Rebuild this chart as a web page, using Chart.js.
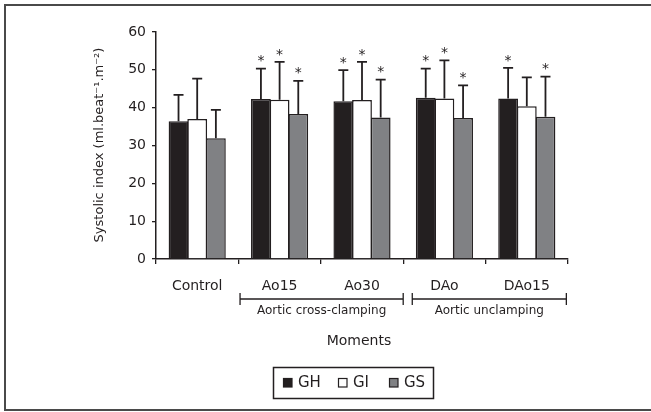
<!DOCTYPE html>
<html>
<head>
<meta charset="utf-8">
<script src="https://cdn.jsdelivr.net/npm/chart.js@4/dist/chart.umd.min.js"></script>
<style>
  html, body { margin: 0; padding: 0; background: #ffffff; overflow: hidden; }
  #wrap { position: relative; width: 651px; height: 412px; }
</style>
</head>
<body>
<div id="wrap"><canvas id="c" width="651" height="412"></canvas></div>
<script>
// ---- data ----
const categories = ['Control', 'Ao15', 'Ao30', 'DAo', 'DAo15'];
const seriesNames = ['GH', 'GI', 'GS'];
const ghValues = [36.4, 42.3, 41.7, 42.6, 42.4];
const giValues = [37.0, 42.1, 42.0, 42.4, 40.4];
const gsValues = [31.9, 38.3, 37.4, 37.3, 37.6];
const ghErrors = [7.0, 8.0, 8.2, 7.7, 8.1];
const giErrors = [10.7, 10.0, 10.1, 10.1, 7.6];
const gsErrors = [7.5, 8.8, 10.0, 8.6, 10.6];
const ghStars = [false, true, true, true, true];
const giStars = [false, true, true, true, false];
const gsStars = [false, true, true, true, true];
const yTicks = [0, 10, 20, 30, 40, 50, 60];
const groupLabels = ['Aortic cross-clamping', 'Aortic unclamping'];
const yTitle = 'Systolic index (ml.beat\u207B\u00B9.m\u207B\u00B2)';
const xTitle = 'Moments';

const INK = '#231f20';
const FONT = '"DejaVu Sans", sans-serif';

const errorSets = [ghErrors, giErrors, gsErrors];
const starSets = [ghStars, giStars, gsStars];

const extras = {
  id: 'extras',
  afterDatasetsDraw(chart) {
    const ctx = chart.ctx;
    const x = chart.scales.x, y = chart.scales.y;
    ctx.save();
    // error bars + stars
    chart.data.datasets.forEach((ds, di) => {
      const meta = chart.getDatasetMeta(di);
      meta.data.forEach((bar, i) => {
        const v = ds.data[i];
        const top = y.getPixelForValue(v + errorSets[di][i]);
        const base = y.getPixelForValue(v);
        ctx.strokeStyle = INK;
        ctx.lineWidth = 1.8;
        ctx.beginPath();
        ctx.moveTo(bar.x, base);
        ctx.lineTo(bar.x, top);
        ctx.moveTo(bar.x - 5, top);
        ctx.lineTo(bar.x + 5, top);
        ctx.stroke();
        if (starSets[di][i]) {
          ctx.fillStyle = INK;
          ctx.font = '14px ' + FONT;
          ctx.textAlign = 'center';
          ctx.textBaseline = 'middle';
          ctx.fillText('*', bar.x, top - 7);
        }
      });
    });
    // group brackets
    const brackets = [[0.52, 2.5], [2.61, 4.48]];
    const by = 299;
    ctx.strokeStyle = INK;
    ctx.lineWidth = 1.3;
    brackets.forEach((b, k) => {
      const x0 = x.getPixelForValue(b[0]);
      const x1 = x.getPixelForValue(b[1]);
      ctx.beginPath();
      ctx.moveTo(x0, by); ctx.lineTo(x1, by);
      ctx.moveTo(x0, by - 6); ctx.lineTo(x0, by + 6);
      ctx.moveTo(x1, by - 6); ctx.lineTo(x1, by + 6);
      ctx.stroke();
      ctx.fillStyle = INK;
      ctx.font = '12px ' + FONT;
      ctx.textAlign = 'center';
      ctx.textBaseline = 'middle';
      ctx.fillText(groupLabels[k], (x0 + x1) / 2, 311);
    });
    // x title
    ctx.font = '14px ' + FONT;
    ctx.fillText(xTitle, 359, 341);
    // y title
    ctx.save();
    ctx.translate(100, 145);
    ctx.rotate(-Math.PI / 2);
    ctx.font = '13px ' + FONT;
    ctx.fillText(yTitle, 0, 0);
    ctx.restore();
    // legend
    ctx.lineWidth = 1.5;
    ctx.strokeStyle = INK;
    ctx.strokeRect(273.5, 367.5, 160, 31);
    const lx = [283, 338, 389];
    chart.data.datasets.forEach((ds, di) => {
      ctx.fillStyle = ds.backgroundColor;
      ctx.fillRect(lx[di], 378, 9, 9);
      ctx.lineWidth = 1.2;
      ctx.strokeRect(lx[di] + 0.5, 378.5, 8.5, 8.5);
      ctx.fillStyle = INK;
      ctx.font = '15px ' + FONT;
      ctx.textAlign = 'left';
      ctx.textBaseline = 'middle';
      ctx.fillText(ds.label, lx[di] + 15, 383);
    });
    // outer frame (left, top, bottom only; right edge lies outside the picture)
    ctx.strokeStyle = '#4a4a4a';
    ctx.lineWidth = 2;
    ctx.beginPath();
    ctx.moveTo(660, 5); ctx.lineTo(5, 5); ctx.lineTo(5, 410); ctx.lineTo(660, 410);
    ctx.stroke();
    ctx.restore();
  }
};

new Chart(document.getElementById('c'), {
  type: 'bar',
  data: {
    labels: categories,
    datasets: [
      { label: seriesNames[0], data: ghValues, backgroundColor: INK, borderColor: INK, borderWidth: 1.5 },
      { label: seriesNames[1], data: giValues, backgroundColor: '#ffffff', borderColor: INK, borderWidth: 1.5 },
      { label: seriesNames[2], data: gsValues, backgroundColor: '#808184', borderColor: INK, borderWidth: 1.5 }
    ]
  },
  options: {
    responsive: false,
    animation: false,
    layout: { padding: { left: 0, right: 83, top: 32, bottom: 0 } },
    plugins: { legend: { display: false }, tooltip: { enabled: false } },
    datasets: { bar: { categoryPercentage: 0.68, barPercentage: 1.06 } },
    scales: {
      x: {
        afterFit(s) { s.height = 153; },
        grid: { offset: true, drawOnChartArea: false, drawTicks: true, tickLength: 5, color: INK, lineWidth: 1.3 },
        border: { display: true, color: INK, width: 1.5 },
        ticks: { color: INK, font: { family: FONT, size: 14 }, padding: 14, maxRotation: 0 }
      },
      y: {
        min: 0, max: 60,
        afterFit(s) { s.width = 156; },
        afterBuildTicks(s) { s.ticks = yTicks.map(v => ({ value: v })); },
        grid: { drawOnChartArea: false, drawTicks: true, tickLength: 4, color: INK, lineWidth: 1.3 },
        border: { display: true, color: INK, width: 1.5 },
        ticks: { color: INK, font: { family: FONT, size: 14 }, padding: 6 }
      }
    }
  },
  plugins: [extras]
});
</script>
</body>
</html>
